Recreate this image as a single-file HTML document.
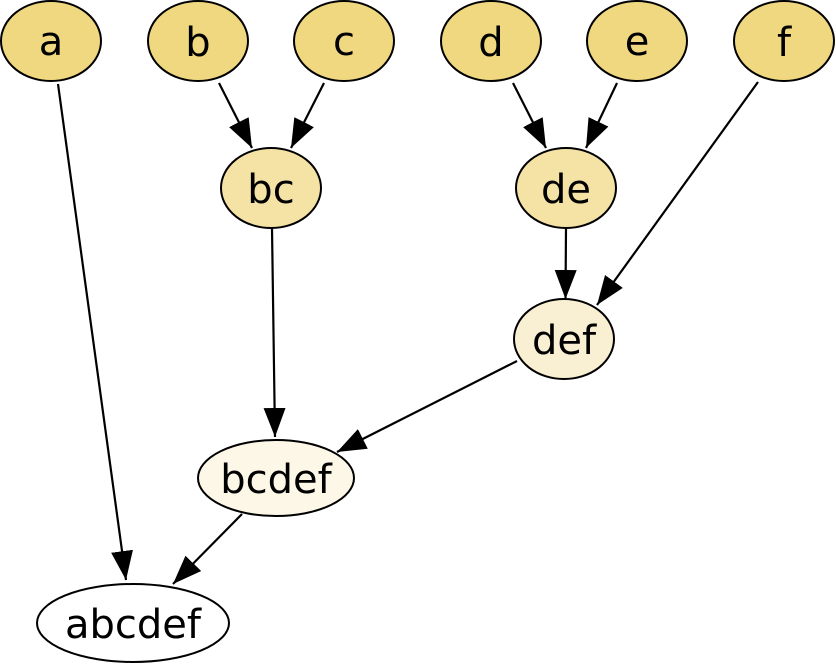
<!DOCTYPE html>
<html>
<head>
<meta charset="utf-8">
<style>
  html, body { margin: 0; padding: 0; background: #ffffff; }
  svg { display: block; }
  text { font-family: "DejaVu Sans", "Liberation Sans", sans-serif; font-size: 40px; fill: #000; text-anchor: middle; }
</style>
</head>
<body>
<svg width="836" height="666" viewBox="0 0 836 666" xmlns="http://www.w3.org/2000/svg">
  <defs>
    <marker id="ah" viewBox="0 0 29 22" refX="29" refY="11" markerWidth="29" markerHeight="22" markerUnits="userSpaceOnUse" orient="auto">
      <path d="M0,0 L29,11 L0,22 z" fill="#000"/>
    </marker>
  </defs>

  <g stroke="#000" stroke-width="2.2" fill="none">
    <line x1="58" y1="84" x2="126" y2="580" marker-end="url(#ah)"/>
    <line x1="219" y1="83" x2="252" y2="148" marker-end="url(#ah)"/>
    <line x1="324" y1="83" x2="291" y2="148" marker-end="url(#ah)"/>
    <line x1="513" y1="83" x2="546" y2="148" marker-end="url(#ah)"/>
    <line x1="617" y1="83" x2="586" y2="148" marker-end="url(#ah)"/>
    <line x1="566" y1="228" x2="565.5" y2="299" marker-end="url(#ah)"/>
    <line x1="758" y1="82" x2="597" y2="305" marker-end="url(#ah)"/>
    <line x1="517" y1="361" x2="337" y2="452" marker-end="url(#ah)"/>
    <line x1="272" y1="228" x2="275" y2="437" marker-end="url(#ah)"/>
    <line x1="242" y1="514" x2="173" y2="584" marker-end="url(#ah)"/>
  </g>

  <g stroke="#000" stroke-width="2">
    <ellipse cx="51" cy="41" rx="50" ry="40" fill="#f0d880"/>
    <ellipse cx="198" cy="41" rx="50" ry="40" fill="#f0d880"/>
    <ellipse cx="344" cy="41" rx="50" ry="40" fill="#f0d880"/>
    <ellipse cx="491" cy="41" rx="50" ry="40" fill="#f0d880"/>
    <ellipse cx="637" cy="41" rx="50" ry="40" fill="#f0d880"/>
    <ellipse cx="784" cy="41" rx="50" ry="40" fill="#f0d880"/>
    <ellipse cx="271" cy="188" rx="50" ry="40" fill="#f5e3a6"/>
    <ellipse cx="566" cy="188" rx="50" ry="40" fill="#f5e3a6"/>
    <ellipse cx="564" cy="339" rx="50" ry="40" fill="#f9efd2"/>
    <ellipse cx="276" cy="478" rx="78" ry="38" fill="#fdf7e8"/>
    <ellipse cx="133" cy="623" rx="96" ry="39" fill="#ffffff"/>
  </g>

  <text x="51" y="55">a</text>
  <text x="198" y="56">b</text>
  <text x="344" y="55">c</text>
  <text x="491" y="56">d</text>
  <text x="637" y="55">e</text>
  <text x="784" y="56">f</text>
  <text x="271" y="203">bc</text>
  <text x="566" y="203">de</text>
  <text x="564" y="354">def</text>
  <text x="276" y="493">bcdef</text>
  <text x="133" y="638">abcdef</text>
</svg>
</body>
</html>
